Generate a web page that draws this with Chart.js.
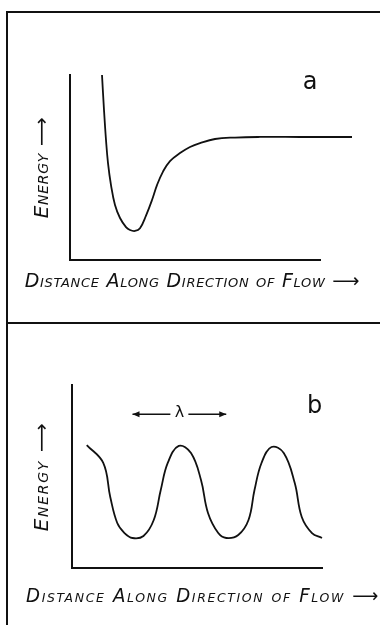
<!DOCTYPE html>
<html><head><meta charset="utf-8">
<script src="https://cdn.jsdelivr.net/npm/chart.js@4"></script>
<style>
html,body{margin:0;padding:0;background:#fff;width:380px;height:625px;overflow:hidden}
#frame{position:absolute;left:6px;top:11px;width:374px;height:614px;border-left:2px solid #111;border-top:2px solid #111}
#sep{position:absolute;left:6px;top:322px;width:374px;height:0;border-top:2px solid #111}
#wa{position:absolute;left:0;top:0;width:380px;height:323px}
#wb{position:absolute;left:0;top:323px;width:380px;height:302px}
</style></head><body>
<div id="frame"></div><div id="sep"></div>
<div id="wa"><canvas id="ca"></canvas></div>
<div id="wb"><canvas id="cb"></canvas></div>
<script>
// Panel a: potential-energy well
const distanceA = [1.28, 1.36, 1.44, 1.52, 1.64, 1.80, 2.00, 2.24, 2.40, 2.60, 2.80, 3.04, 3.28, 3.48, 3.72, 4.00, 4.40, 4.80, 5.20, 5.80, 6.60, 7.60, 9.20, 11.28];
const energyA   = [10.0, 8.11, 6.49, 5.24, 4.05, 2.97, 2.27, 1.78, 1.62, 1.57, 1.72, 2.40, 3.24, 4.05, 4.78, 5.35, 5.78, 6.11, 6.32, 6.54, 6.62, 6.65, 6.65, 6.65];
// Panel b: periodic energy
const distanceB = [0.59, 1.25, 1.53, 1.81, 2.10, 2.42, 2.86, 3.27, 3.55, 3.83, 4.27, 4.76, 5.16, 5.44, 5.85, 6.17, 6.65, 7.06, 7.30, 7.58, 7.98, 8.47, 8.91, 9.19, 9.60, 10.0];
const energyB   = [6.72, 5.74, 3.88, 2.46, 1.91, 1.64, 1.75, 2.62, 4.26, 5.74, 6.67, 6.28, 4.81, 3.01, 1.91, 1.64, 1.80, 2.62, 4.26, 5.74, 6.61, 6.28, 4.64, 2.79, 1.91, 1.64];

const xTitle = 'Distance Along Direction of Flow \u27F6';
const yTitle = 'Energy \u27F6';
const panelLabels = ['a', 'b'];
const labelPosA = [9.6, 9.6];
const labelPosB = [9.7, 8.8];
const lambdaLevel = 8.4;

const FAM = "'DejaVu Sans', sans-serif";
const INK = '#111';

function pts(xs, ys) { return xs.map((v, i) => ({x: v, y: ys[i]})); }
function localMinima(xs, ys) {
  const out = [];
  for (let i = 1; i < ys.length - 1; i++) if (ys[i] <= ys[i-1] && ys[i] <= ys[i+1]) out.push(xs[i]);
  return out;
}

const annot = {
  id: 'annot',
  beforeDraw(chart, args, o) { chart.ctx.letterSpacing = o.spacing || '0px'; },
  afterDatasetsDraw(chart, args, o) {
    const {ctx} = chart; const x = chart.scales.x, y = chart.scales.y;
    ctx.save();
    ctx.letterSpacing = '0px';
    ctx.fillStyle = INK; ctx.strokeStyle = INK;
    ctx.textAlign = 'center'; ctx.textBaseline = 'middle';
    ctx.font = "24px " + FAM;
    ctx.fillText(o.label, x.getPixelForValue(o.pos[0]), y.getPixelForValue(o.pos[1]));
    if (o.lambda) {
      const x1 = x.getPixelForValue(o.lambda[0]), x2 = x.getPixelForValue(o.lambda[1]);
      const yy = y.getPixelForValue(o.lambdaY), xc = (x1 + x2) / 2;
      ctx.font = "16px " + FAM;
      ctx.fillText('\u03BB', xc, yy - 1);
      ctx.lineWidth = 1.5;
      ctx.beginPath();
      ctx.moveTo(x1, yy); ctx.lineTo(xc - 9, yy);
      ctx.moveTo(xc + 9, yy); ctx.lineTo(x2, yy);
      ctx.stroke();
      ctx.beginPath();
      ctx.moveTo(x1, yy); ctx.lineTo(x1 + 7, yy - 3); ctx.lineTo(x1 + 7, yy + 3); ctx.closePath();
      ctx.moveTo(x2, yy); ctx.lineTo(x2 - 7, yy - 3); ctx.lineTo(x2 - 7, yy + 3); ctx.closePath();
      ctx.fill();
    }
    ctx.restore();
  }
};

function makeChart(id, xs, ys, cfg) {
  const font = (size) => ({family: FAM, size: size, style: 'italic', weight: 'small-caps'});
  return new Chart(document.getElementById(id), {
    type: 'scatter',
    data: { datasets: [{
      data: pts(xs, ys), showLine: true, pointRadius: 0, borderColor: INK, borderWidth: 1.8,
      tension: 0.4, clip: false, fill: false
    }]},
    options: {
      responsive: true, maintainAspectRatio: false, animation: false,
      events: [],
      layout: { padding: cfg.padding },
      plugins: {
        legend: {display: false}, tooltip: {enabled: false}, annot: cfg.annot,
        title: {display: true, position: 'bottom', align: 'center', text: xTitle, color: INK,
                font: font(cfg.xSize), padding: cfg.xPad}
      },
      scales: {
        x: { type: 'linear', min: 0, max: 10,
             ticks: {display: false}, grid: {display: false, drawTicks: false},
             border: {display: true, color: INK, width: 2},
             afterFit: (s) => { s.height = 0; } },
        y: { type: 'linear', min: 0, max: 10,
             ticks: {display: false}, grid: {display: false, drawTicks: false},
             border: {display: true, color: INK, width: 2},
             title: {display: true, text: yTitle, color: INK, font: font(cfg.ySize), padding: cfg.yPad},
             afterFit: (s) => { s.width = cfg.yWidth; } },
        yR: { type: 'linear', position: 'right', display: true,
              ticks: {display: false}, grid: {display: false, drawTicks: false},
              border: {display: false},
              afterFit: (s) => { s.width = cfg.rightGap; } }
      }
    },
    plugins: [annot]
  });
}

makeChart('ca', distanceA, energyA, {
  padding: {left: 5, right: 0, top: 75, bottom: 25.6},
  yWidth: 65, rightGap: 60,
  xSize: 19, xPad: {top: 10.6, bottom: 4},
  ySize: 20, yPad: {top: 26, bottom: 4},
  annot: {label: panelLabels[0], pos: labelPosA, spacing: '0.7px'}
});
const minsB = localMinima(distanceB, energyB);
makeChart('cb', distanceB, energyB, {
  padding: {left: 26, right: 0, top: 62, bottom: 12.6},
  yWidth: 46, rightGap: 58,
  xSize: 19, xPad: {top: 17.6, bottom: 4},
  ySize: 20, yPad: {top: 5, bottom: 4},
  annot: {label: panelLabels[1], pos: labelPosB, lambda: [minsB[0], minsB[1]], lambdaY: lambdaLevel, spacing: '1.7px'}
});
</script>
</body></html>
